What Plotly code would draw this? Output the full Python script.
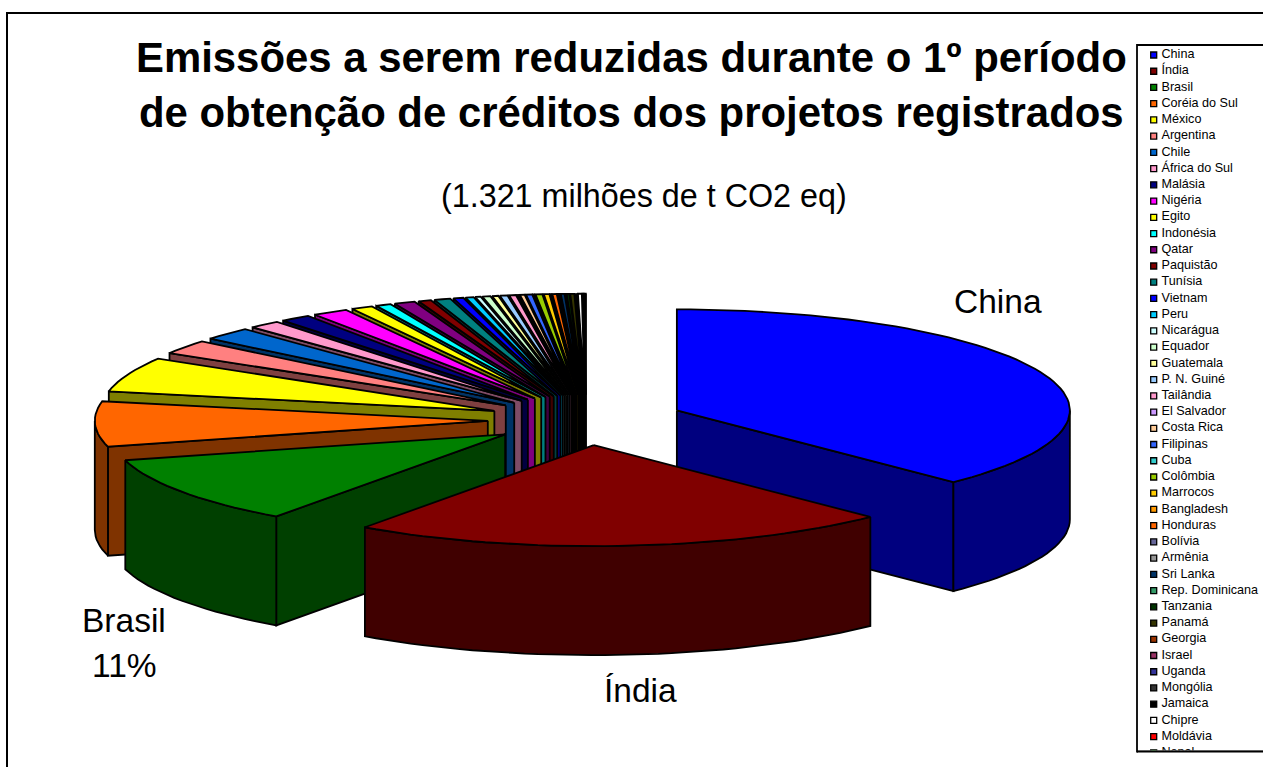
import math
import plotly.graph_objects as go

countries = ["China","Índia","Brasil","Coréia do Sul","México","Argentina","Chile","África do Sul","Malásia","Nigéria","Egito","Indonésia","Qatar","Paquistão","Tunísia","Vietnam","Peru","Nicarágua","Equador","Guatemala","P. N. Guiné","Tailândia","El Salvador","Costa Rica","Filipinas","Cuba","Colômbia","Marrocos","Bangladesh","Honduras","Bolívia","Armênia","Sri Lanka","Rep. Dominicana","Tanzania","Panamá","Georgia","Israel","Uganda","Mongólia","Jamaica","Chipre","Moldávia","Nepal"]
# share of the total, in degrees of the pie
shares = [135.2,80.3,39.5,26.0,20.0,8.2,7.4,4.7,4.5,5.3,3.2,2.3,3.1,1.9,2.4,1.5,1.2,0.8,1.2,0.9,1.1,1.0,0.3,0.7,0.9,0.2,1.0,0.8,0.2,0.65,0.2,0.15,0.55,0.15,0.4,0.6,0.1,0.05,0.05,0.05,0.05,0.57,0.18,0.25]
colors = ["#0000FF","#800000","#008000","#FF6600","#FFFF00","#FF8080","#0066CC","#FF99CC","#000080","#FF00FF","#FFFF00","#00FFFF","#800080","#800000","#008080","#0000FF","#00CCFF","#CCFFFF","#CCFFCC","#FFFF99","#99CCFF","#FF99CC","#CC99FF","#FFCC99","#3366FF","#33CCCC","#99CC00","#FFCC00","#FF9900","#FF6600","#666699","#969696","#003366","#339966","#003300","#333300","#993300","#993366","#333399","#333333","#000000","#FFFFFF","#FF0000","#00FF00"]

FONT = "Liberation Sans"
CX, CY, RX, RY, EXPLODE, DEPTH = 586, 420, 393, 101, 0.25, 109

def dark(h):
    return "#%02X%02X%02X" % tuple(int(h[i:i+2], 16) // 2 for i in (1, 3, 5))

total = sum(shares)
bounds = [0]
for s in shares:
    bounds.append(bounds[-1] + s * 360 / total)

def proj(a, ox, oy, dz=0):
    r = math.radians(a)
    return ox + RX * math.sin(r), oy - RY * math.cos(r) + dz

def arc(a0, a1, ox, oy, dz=0):
    n = max(2, int((a1 - a0) / 2) + 2)
    return [proj(a0 + (a1 - a0) * i / (n - 1), ox, oy, dz) for i in range(n)]

fig = go.Figure()

def poly(pts, fill):
    xs = [p[0] for p in pts] + [pts[0][0]]
    ys = [p[1] for p in pts] + [pts[0][1]]
    fig.add_trace(go.Scatter(x=xs, y=ys, mode="lines", fill="toself", fillcolor=fill,
                             line=dict(color="black", width=1.8), hoverinfo="skip", showlegend=False))

def slice3d(i):
    a0, a1 = bounds[i], bounds[i + 1]
    m = math.radians((a0 + a1) / 2)
    ox = CX + EXPLODE * RX * math.sin(m)
    oy = CY - EXPLODE * RY * math.cos(m)
    d = dark(colors[i])
    if math.sin(math.radians(a0)) < 0:   # start wall faces the viewer
        p = proj(a0, ox, oy)
        poly([(ox, oy), p, (p[0], p[1] + DEPTH), (ox, oy + DEPTH)], d)
    if math.sin(math.radians(a1)) > 0:   # end wall faces the viewer
        p = proj(a1, ox, oy)
        poly([(ox, oy), p, (p[0], p[1] + DEPTH), (ox, oy + DEPTH)], d)
    lo, hi = max(a0, 90), min(a1, 270)
    if hi > lo:
        poly(arc(lo, hi, ox, oy) + arc(lo, hi, ox, oy, DEPTH)[::-1], d)
    poly([(ox, oy)] + arc(a0, a1, ox, oy), colors[i])

order = [0] + list(range(len(shares) - 1, 1, -1)) + [1]
for i in order:
    slice3d(i)

# legend, drawn as a column so that it can run off the frame as in the reference
LX, LTX, LY0, LSTEP = 1153.7, 1161.5, 55, 16.23
fig.add_shape(type="rect", x0=1137, y0=45, x1=1275, y1=751.5, fillcolor="white",
              line=dict(color="black", width=1.8), layer="below")
ly = [LY0 + LSTEP * i for i in range(len(countries))]
fig.add_trace(go.Scatter(
    x=[LX] * len(countries), y=ly, mode="markers",
    marker=dict(symbol="square", size=6, color=colors, line=dict(color="black", width=1.3)),
    hoverinfo="skip", showlegend=False))
fig.add_trace(go.Scatter(
    x=[LTX] * len(countries), y=ly, mode="text", text=countries, textposition="middle right",
    textfont=dict(family=FONT, size=12.6, color="black"), hoverinfo="skip", showlegend=False))
fig.add_shape(type="rect", x0=1138, y0=750.5, x1=1263, y1=767, fillcolor="white", line_width=0, layer="above")
fig.add_shape(type="line", x0=1137, y0=751.5, x1=1263, y1=751.5, line=dict(color="black", width=1.8), layer="above")

def label(x, y, t, size, bold=False):
    fig.add_annotation(x=x, y=y, text=("<b>%s</b>" % t) if bold else t, showarrow=False,
                       xanchor="center", yanchor="middle", font=dict(family=FONT, size=size, color="black"))

label(631, 57, "Emissões a serem reduzidas durante o 1º período", 41.9, True)
label(631, 112, "de obtenção de créditos dos projetos registrados", 41.9, True)
label(644, 196, "(1.321 milhões de t CO2 eq)", 32.3)
label(998, 301, "China", 33.5)
label(640, 690, "Índia", 33.5)
label(124, 620, "Brasil", 33.5)
label(124, 665, "11%", 33.5)

fig.add_shape(type="rect", x0=7, y0=13, x1=1300, y1=790, line=dict(color="black", width=2), layer="below")

fig.update_layout(width=1263, height=767, margin=dict(l=0, r=0, t=0, b=0), autosize=False,
                  plot_bgcolor="white", paper_bgcolor="white", showlegend=False,
                  xaxis=dict(range=[0, 1263], visible=False, fixedrange=True),
                  yaxis=dict(range=[767, 0], visible=False, fixedrange=True))
fig.write_html("out.html", config={"displayModeBar": False},
               post_script="document.body.style.margin='0';document.documentElement.style.overflow='hidden';")
